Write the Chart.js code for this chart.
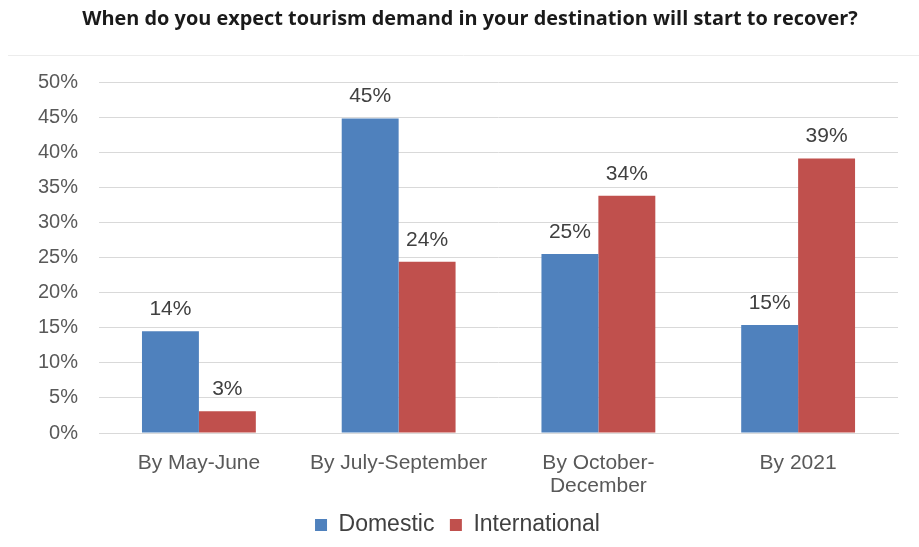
<!DOCTYPE html>
<html>
<head>
<meta charset="utf-8">
<script src="https://cdn.jsdelivr.net/npm/chart.js@4.4.1/dist/chart.umd.min.js"></script>
<style>
  html, body { margin: 0; padding: 0; background: #fff; }
  #wrap { width: 919px; height: 547px; position: relative; }
</style>
</head>
<body>
<div id="wrap"><canvas id="myChart"></canvas></div>
<script>
var title = 'When do you expect tourism demand in your destination will start to recover?';
var categories = [['By May-June'], ['By July-September'], ['By October-', 'December'], ['By 2021']];
var domestic = [14.5, 44.8, 25.5, 15.4];
var international = [3.1, 24.4, 33.8, 39.1];
var domesticLabels = ['14%', '45%', '25%', '15%'];
var internationalLabels = ['3%', '24%', '34%', '39%'];

// title, thin rule under it, and the value labels over the bars
var extras = {
    id: 'extras',
    afterDraw: function(chart) {
        var ctx = chart.ctx;
        ctx.save();
        ctx.fillStyle = '#1a1a1a';
        ctx.font = 'bold 19.9px "Open Sans", sans-serif';
        ctx.textAlign = 'center';
        ctx.textBaseline = 'middle';
        ctx.fillText(title, 470, 19);

        ctx.strokeStyle = '#ececec';
        ctx.lineWidth = 1;
        ctx.beginPath();
        ctx.moveTo(8, 55.5);
        ctx.lineTo(919, 55.5);
        ctx.stroke();

        ctx.fillStyle = '#404040';
        ctx.font = '21px "Liberation Sans", Arial, sans-serif';
        var texts = [domesticLabels, internationalLabels];
        chart.data.datasets.forEach(function(ds, di) {
            chart.getDatasetMeta(di).data.forEach(function(bar, i) {
                ctx.fillText(texts[di][i], bar.x, bar.y - 22);
            });
        });
        ctx.restore();
    }
};

var ctx = document.getElementById('myChart').getContext('2d');
var chart = new Chart(ctx, {
    type: 'bar',
    data: {
        labels: categories,
        datasets: [{
            label: 'Domestic',
            data: domestic,
            backgroundColor: '#4f81bd'
        }, {
            label: 'International',
            data: international,
            backgroundColor: '#c0504d'
        }]
    },
    options: {
        responsive: true,
        maintainAspectRatio: false,
        animation: false,
        layout: { padding: { left: 17, right: 21, top: 82, bottom: 0.5 } },
        datasets: { bar: { barPercentage: 1, categoryPercentage: 0.57 } },
        plugins: {
            title: { display: false },
            legend: {
                position: 'bottom',
                labels: {
                    color: '#404040',
                    font: { family: '"Liberation Sans", Arial, sans-serif', size: 23 },
                    boxWidth: 12,
                    boxHeight: 12,
                    padding: 15.5
                }
            },
            tooltip: { enabled: false }
        },
        scales: {
            x: {
                grid: { display: false, drawTicks: false },
                border: { color: '#d9d9d9' },
                ticks: {
                    color: '#595959',
                    font: { family: '"Liberation Sans", Arial, sans-serif', size: 21, lineHeight: 1.1 },
                    padding: 18.5,
                    maxRotation: 0
                },
                afterFit: function(scale) { scale.height = 65; }
            },
            y: {
                min: 0,
                max: 50,
                grid: { color: '#d9d9d9', drawTicks: false },
                border: { display: false },
                ticks: {
                    stepSize: 5,
                    color: '#595959',
                    padding: 21,
                    font: { family: '"Liberation Sans", Arial, sans-serif', size: 20 },
                    callback: function(v) { return v + '%'; }
                }
            }
        }
    },
    plugins: [extras]
});
</script>
</body>
</html>
